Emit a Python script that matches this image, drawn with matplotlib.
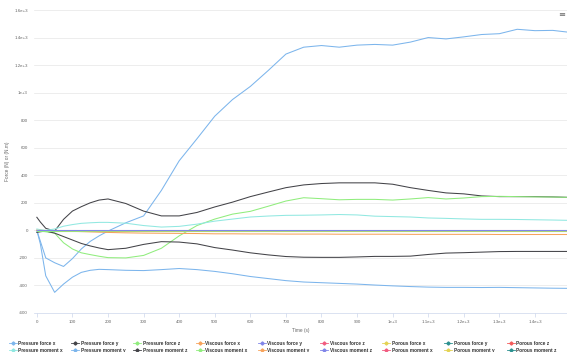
import numpy as np
import matplotlib
matplotlib.use("Agg")
import matplotlib.pyplot as plt
from matplotlib.lines import Line2D

plt.rcParams["font.family"] = ["Liberation Sans", "DejaVu Sans"]

# time grid (s)
time = [0, 10, 25, 50, 75, 100, 125, 150, 175, 200, 250, 300, 350, 400, 450, 500, 550, 600,
        650, 700, 750, 800, 850, 900, 950, 1000, 1050, 1100, 1150, 1200, 1250, 1300, 1350,
        1400, 1450, 1490]

pressure_force_x = [0, -80, -200, -235, -262, -205, -135, -80, -40, -5, 55, 105, 290, 505, 665,
                    829, 950, 1045, 1160, 1280, 1330, 1342, 1330, 1345, 1350, 1345, 1367, 1400,
                    1390, 1405, 1422, 1428, 1460, 1450, 1452, 1440]
pressure_force_y = [95, 60, 15, -5, 80, 140, 172, 200, 220, 228, 195, 140, 105, 105, 130, 170,
                    205, 245, 278, 310, 330, 340, 345, 345, 345, 335, 310, 290, 272, 265, 250,
                    245, 245, 245, 243, 240]
pressure_force_z = [0, -5, -10, -20, -90, -135, -163, -176, -188, -198, -200, -182, -130, -40,
                    35, 82, 118, 138, 175, 213, 237, 230, 222, 225, 225, 220, 228, 238, 228, 235,
                    245, 247, 245, 243, 242, 240]
viscous_force_x = [0, -1, -2, -3, -5, -7, -9, -11, -13, -15, -18, -20, -21, -22, -23, -25, -25,
                   -26, -26, -27, -27, -27, -28, -28, -28, -28, -29, -29, -29, -29, -29, -30,
                   -30, -30, -30, -30]
pressure_moment_x = [10, 5, 0, 10, 30, 42, 51, 55, 58, 58, 52, 35, 24, 29, 45, 67, 82, 97, 104,
                     109, 110, 112, 115, 112, 103, 100, 97, 90, 87, 83, 80, 80, 79, 77, 75, 73]
pressure_moment_y = [0, -100, -330, -450, -390, -340, -305, -290, -283, -285, -290, -292, -285,
                     -277, -285, -298, -315, -335, -350, -365, -375, -380, -385, -390, -397,
                     -403, -408, -412, -414, -414, -415, -414, -416, -418, -420, -421]
pressure_moment_z = [-15, -10, -5, -20, -45, -70, -95, -113, -128, -140, -130, -102, -82, -85,
                     -98, -125, -143, -163, -178, -190, -195, -196, -196, -193, -189, -189, -187,
                     -175, -165, -162, -158, -154, -153, -153, -153, -153]
viscous_force_y = [-3] * len(time)
viscous_force_z = [0] * len(time)
viscous_moment_x = [-2] * len(time)
viscous_moment_y = [0, 0, -1, -1, -2, -2, -2, -3, -3, -3, -3, -3, -3, -3, -3, -3, -3, -3, -3,
                    -3, -3, -3, -3, -3, -3, -3, -3, -3, -3, -3, -3, -3, -3, -3, -3, -3]
viscous_moment_z = [1] * len(time)
porous_empty = []  # no porous zone: these series carry no points

names = ["Pressure force x", "Pressure force y", "Pressure force z",
         "Viscous force x", "Viscous force y", "Viscous force z",
         "Porous force x", "Porous force y", "Porous force z",
         "Pressure moment x", "Pressure moment y", "Pressure moment z",
         "Viscous moment x", "Viscous moment y", "Viscous moment z",
         "Porous moment x", "Porous moment y", "Porous moment z"]
values = [pressure_force_x, pressure_force_y, pressure_force_z,
          viscous_force_x, viscous_force_y, viscous_force_z,
          porous_empty, porous_empty, porous_empty,
          pressure_moment_x, pressure_moment_y, pressure_moment_z,
          viscous_moment_x, viscous_moment_y, viscous_moment_z,
          porous_empty, porous_empty, porous_empty]
colors = ["#7cb5ec", "#434348", "#90ed7d", "#f7a35c", "#8085e9", "#f15c80", "#e4d354",
          "#2b908f", "#f45b5b", "#91e8e1", "#7cb5ec", "#434348", "#90ed7d", "#f7a35c",
          "#8085e9", "#f15c80", "#e4d354", "#2b908f"]

W, H = 567, 352
fig = plt.figure(figsize=(W / 100, H / 100), dpi=100)
ax = fig.add_axes([34 / W, 1 - 313 / H, 1 - 34 / W, (313 - 10) / H])

for name, v, c in zip(names, values, colors):
    if len(v):
        ax.plot(time, v, color=c, lw=0.75, solid_joinstyle="round")

ax.set_xlim(-8, 1490)
ax.set_ylim(-600, 1600)
ax.set_yticks(np.arange(-600, 1601, 200))
ax.set_yticklabels(["-600", "-400", "-200", "0", "200", "400", "600", "800",
                    "1e+3", "1.2e+3", "1.4e+3", "1.6e+3"])
ax.set_xticks(np.arange(0, 1401, 100))
ax.set_xticklabels(["0", "100", "200", "300", "400", "500", "600", "700", "800", "900",
                    "1e+3", "1.1e+3", "1.2e+3", "1.3e+3", "1.4e+3"])
ax.grid(axis="y", color="#e6e6e6", lw=0.5)
ax.set_axisbelow(True)
for s in ("top", "right", "left"):
    ax.spines[s].set_visible(False)
ax.spines["bottom"].set_color("#ccd6eb")
ax.spines["bottom"].set_linewidth(0.5)
ax.tick_params(axis="y", length=0, pad=4.5, labelsize=3.2, labelcolor="#666666")
ax.tick_params(axis="x", length=3, width=0.5, color="#ccd6eb", pad=2, labelsize=3.2,
               labelcolor="#666666")
ax.set_xlabel("Time (s)", fontsize=3.4, color="#666666", labelpad=3)
ax.set_ylabel("Force (N) or (N.m)", fontsize=3.4, color="#666666")
ax.yaxis.set_label_coords(-(34 - 9.5) / (W - 34), 0.5)

# menu icon
fig.text(562 / W, 1 - 15 / H, "≡", fontsize=6, color="#666666", ha="center", va="center",
         family="DejaVu Sans")

# legend (9 columns, 2 rows)
for i, (name, c) in enumerate(zip(names, colors)):
    col, row = i % 9, i // 9
    xm = 13 + col * 62.2
    ym = 343.3 + row * 6.8
    fig.add_artist(Line2D([(xm - 4) / W, (xm + 4) / W], [1 - ym / H, 1 - ym / H],
                          color=c, lw=0.6, transform=fig.transFigure))
    fig.add_artist(Line2D([xm / W], [1 - ym / H], marker="D", ms=1.6, color=c,
                          transform=fig.transFigure))
    fig.text((xm + 5.5) / W, 1 - ym / H, name, fontsize=3.45, fontweight="bold",
             color="#333333", ha="left", va="center")

fig.savefig("out.png", dpi=100)
